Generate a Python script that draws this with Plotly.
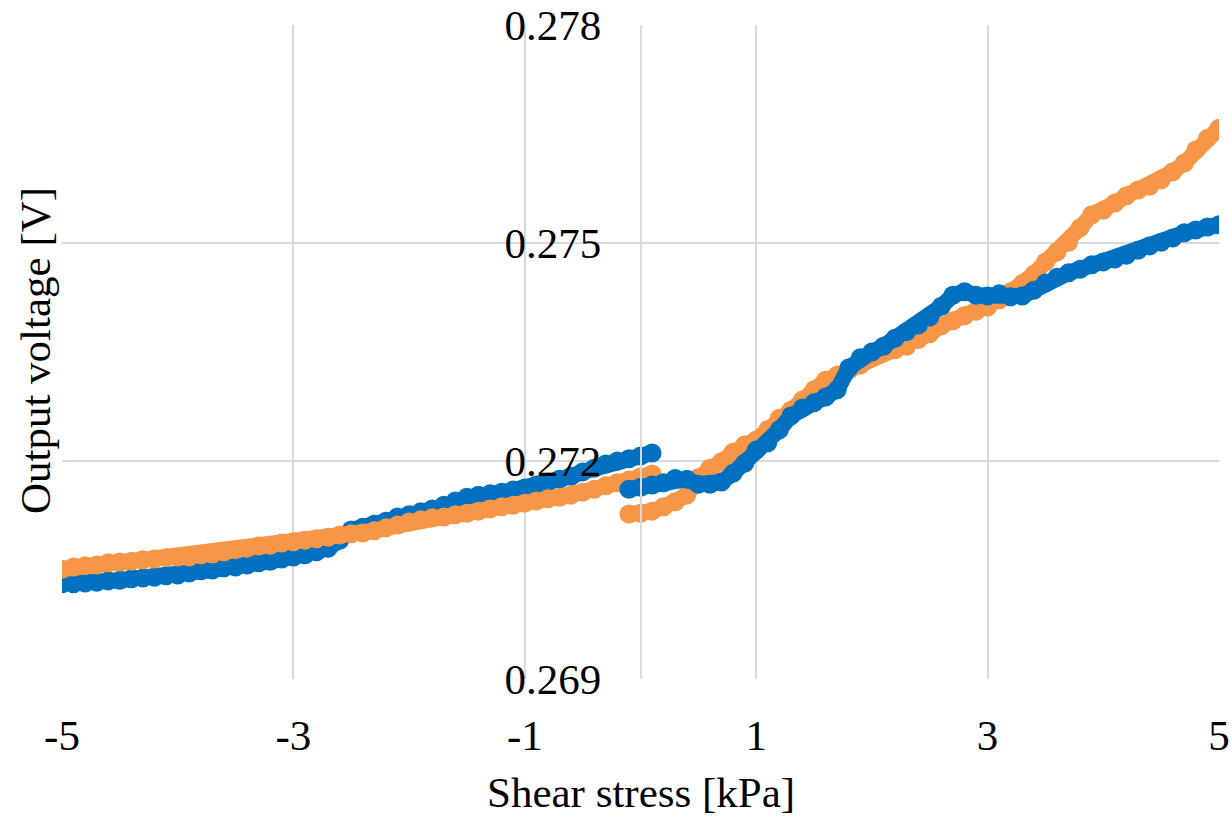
import plotly.graph_objects as go

# ---------------- data ----------------
# Blue series, negative-side sweep (x from -5.0 to 0.1 step 0.1)
blue_left_x = [round(-5.0 + 0.1 * i, 1) for i in range(52)]
blue_left_y = [0.27031, 0.27031, 0.27032, 0.27033, 0.27035, 0.27036, 0.27038, 0.27039, 0.27040, 0.27042,
               0.27043, 0.27046, 0.27049, 0.27050, 0.27053, 0.27054, 0.27057, 0.27060, 0.27062, 0.27065,
               0.27068, 0.27071, 0.27075, 0.27080, 0.27091, 0.27105, 0.27109, 0.27113, 0.27117, 0.27123,
               0.27126, 0.27130, 0.27134, 0.27139, 0.27145, 0.27150, 0.27153, 0.27155, 0.27157, 0.27160,
               0.27163, 0.27167, 0.27171, 0.27175, 0.27179, 0.27185, 0.27190, 0.27196, 0.27200, 0.27203,
               0.27207, 0.27211]

# Orange series, negative-side sweep (x from -5.0 to 0.1)
orange_left_x = [round(-5.0 + 0.1 * i, 1) for i in range(52)]
orange_left_y = [0.27051, 0.27054, 0.27056, 0.27057, 0.27060, 0.27061, 0.27062, 0.27064, 0.27065, 0.27067,
                 0.27068, 0.27068, 0.27071, 0.27072, 0.27075, 0.27078, 0.27080, 0.27083, 0.27084, 0.27087,
                 0.27089, 0.27091, 0.27093, 0.27095, 0.27098, 0.27100, 0.27101, 0.27104, 0.27108, 0.27112,
                 0.27116, 0.27119, 0.27122, 0.27123, 0.27126, 0.27128, 0.27131, 0.27134, 0.27137, 0.27139,
                 0.27142, 0.27145, 0.27148, 0.27150, 0.27153, 0.27157, 0.27161, 0.27166, 0.27170, 0.27174,
                 0.27178, 0.27182]

# Orange series, positive-side sweep (x from -0.1 to 5.0)
orange_right_x = [round(-0.1 + 0.1 * i, 1) for i in range(52)]
orange_right_y = [0.27127, 0.27128, 0.27131, 0.27137, 0.27144, 0.27153, 0.27177, 0.27190, 0.27199, 0.27212,
                  0.27222, 0.27229, 0.27243, 0.27259, 0.27270, 0.27284, 0.27298, 0.27311, 0.27318, 0.27325,
                  0.27332, 0.27342, 0.27349, 0.27353, 0.27358, 0.27367, 0.27375, 0.27386, 0.27393, 0.27400,
                  0.27406, 0.27412, 0.27422, 0.27433, 0.27444, 0.27457, 0.27474, 0.27488, 0.27501, 0.27521,
                  0.27539, 0.27545, 0.27555, 0.27565, 0.27573, 0.27578, 0.27587, 0.27598, 0.27610, 0.27628,
                  0.27644, 0.27658]

# Blue series, positive-side sweep (x from -0.1 to 5.0)
blue_right_x = [round(-0.1 + 0.1 * i, 1) for i in range(52)]
blue_right_y = [0.27161, 0.27164, 0.27167, 0.27170, 0.27176, 0.27175, 0.27168, 0.27168, 0.27171, 0.27183,
                0.27197, 0.27215, 0.27225, 0.27243, 0.27262, 0.27273, 0.27280, 0.27288, 0.27298, 0.27328,
                0.27342, 0.27350, 0.27358, 0.27369, 0.27378, 0.27387, 0.27398, 0.27413, 0.27428, 0.27433,
                0.27428, 0.27427, 0.27430, 0.27426, 0.27427, 0.27435, 0.27445, 0.27453, 0.27459, 0.27464,
                0.27470, 0.27474, 0.27478, 0.27483, 0.27490, 0.27496, 0.27501, 0.27507, 0.27514, 0.27518,
                0.27522, 0.27525]

x_tickvals = [-5, -3, -1, 1, 3, 5]
x_ticktext = ["-5", "-3", "-1", "1", "3", "5"]
y_tickvals = [0.269, 0.272, 0.275, 0.278]
y_ticktext = ["0.269", "0.272", "0.275", "0.278"]

x_title = "Shear stress [kPa]"
y_title = "Output voltage [V]"

# ---------------- styling ----------------
BLUE = "#0070C0"
ORANGE = "#F79646"
GRID = "#D9D9D9"
FONT = "Liberation Serif"
FS = 43
MS = 19

fig = go.Figure()

def add(xs, ys, color):
    fig.add_trace(go.Scatter(
        x=xs, y=ys, mode="lines+markers",
        line=dict(color=color, width=16),
        marker=dict(color=color, size=MS, line=dict(width=0)),
        showlegend=False, hoverinfo="x+y"))

add(blue_left_x, blue_left_y, BLUE)
add(orange_left_x, orange_left_y, ORANGE)
add(orange_right_x, orange_right_y, ORANGE)
add(blue_right_x, blue_right_y, BLUE)

fig.update_layout(
    width=1232, height=817,
    margin=dict(l=62, r=13, t=25, b=138),
    plot_bgcolor="white", paper_bgcolor="white",
    font=dict(family=FONT, size=FS, color="black"),
    xaxis=dict(
        range=[-5, 5], tickvals=x_tickvals, ticktext=x_ticktext,
        showgrid=True, gridcolor=GRID, gridwidth=1.5,
        zeroline=False, showline=False, ticks="",
        ticklabelstandoff=27, automargin=False,
        tickfont=dict(family=FONT, size=FS, color="black"),
    ),
    yaxis=dict(
        range=[0.269, 0.278], tickvals=y_tickvals, ticktext=y_ticktext,
        showgrid=True, gridcolor=GRID, gridwidth=1.5,
        zeroline=False, showline=True, linecolor=GRID, linewidth=1.5,
        anchor="free", position=0.5, ticks="",
        ticklabelstandoff=30, automargin=False,
        tickfont=dict(family=FONT, size=FS, color="black"),
    ),
    annotations=[
        dict(text=x_title, x=0.5, y=-0.173, xref="paper", yref="paper",
             xanchor="center", yanchor="middle", showarrow=False,
             font=dict(family=FONT, size=FS, color="black")),
        dict(text=y_title, x=-0.023, y=0.502, xref="paper", yref="paper",
             xanchor="center", yanchor="middle", showarrow=False, textangle=-90,
             font=dict(family=FONT, size=FS, color="black")),
    ],
)

fig.write_html("out.html", config={"displayModeBar": False},
               post_script="document.body.style.margin='0';document.body.style.overflow='hidden';")
